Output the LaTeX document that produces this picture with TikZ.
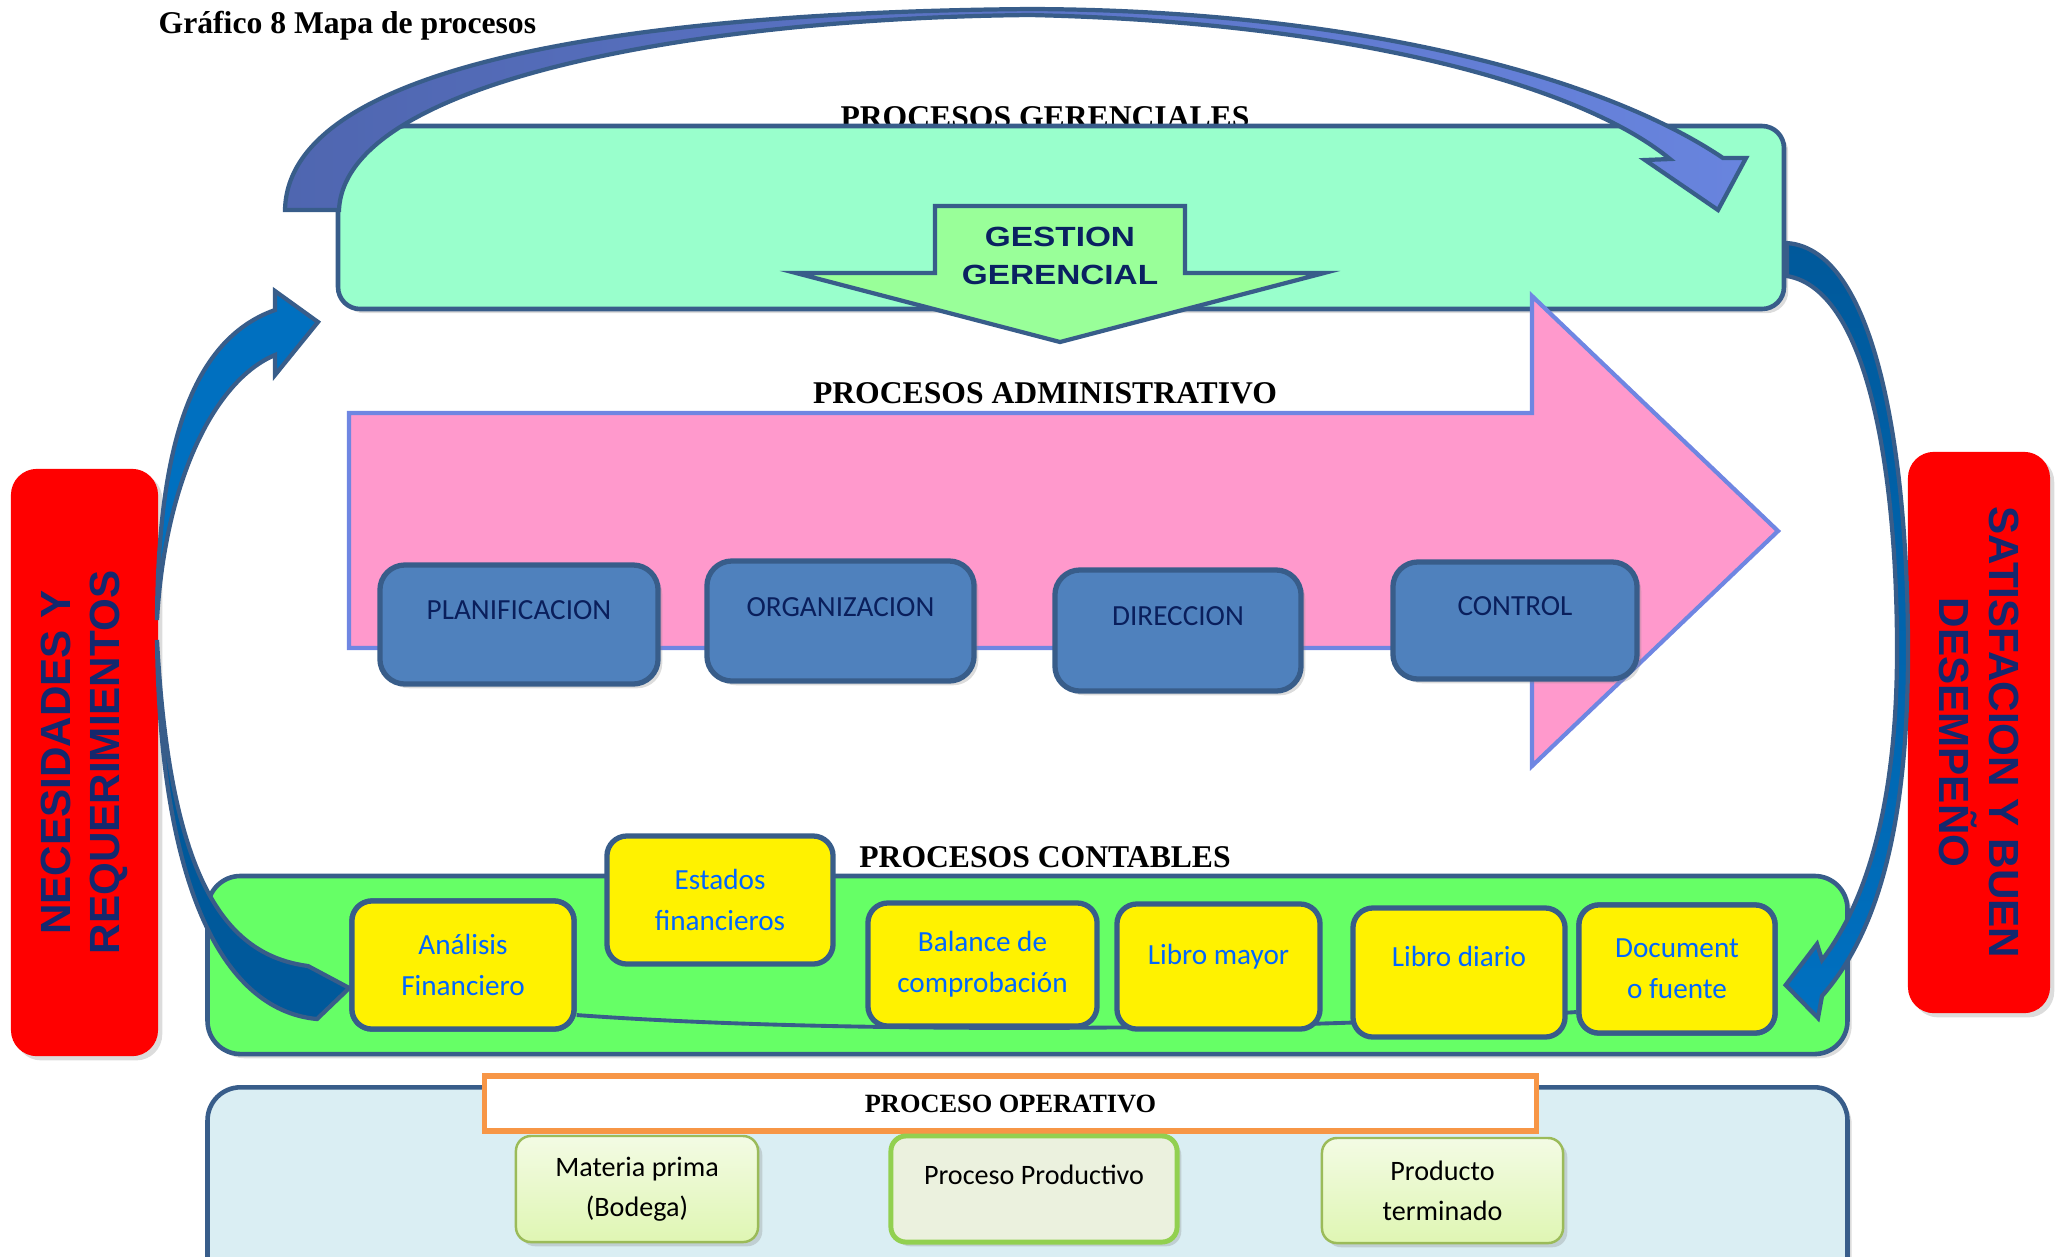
\documentclass[tikz,border=0pt]{standalone}
\usepackage{fontspec}
\setmainfont{Liberation Serif}
\newfontfamily\calib{Carlito}
\newfontfamily\arial{Liberation Sans}
\newfontfamily\arialw[FakeStretch=1.2]{Liberation Sans}
\usetikzlibrary{positioning,shapes,arrows,shadows}

\definecolor{frame}{HTML}{385D8A}
\definecolor{mint}{HTML}{99FFCC}
\definecolor{lgreen}{HTML}{99FF99}
\definecolor{gesttxt}{HTML}{0A2161}
\definecolor{pinkfill}{HTML}{FF99CC}
\definecolor{pinkline}{HTML}{6F86E2}
\definecolor{boxblue}{HTML}{4F81BD}
\definecolor{navy}{HTML}{0A1F5C}
\definecolor{contfill}{HTML}{66FF66}
\definecolor{txtblue}{HTML}{0066FF}
\definecolor{opfill}{HTML}{DAEEF3}
\definecolor{orangeline}{HTML}{F79646}
\definecolor{olive}{HTML}{9BBB59}
\definecolor{lime}{HTML}{92D050}
\definecolor{palegreen}{HTML}{EBF1DE}
\definecolor{greentop}{HTML}{F3FBE4}
\definecolor{greenbot}{HTML}{DFF6B3}
\definecolor{arrowL}{HTML}{4F66B0}
\definecolor{arrowR}{HTML}{6884DE}
\definecolor{blueA}{HTML}{0070C0}
\definecolor{blueB}{HTML}{00599B}
\definecolor{redtxt}{HTML}{14286E}

\begin{document}
\begin{tikzpicture}[
	x=0.01cm,y=-0.01cm,
	softshadow/.style={drop shadow={opacity=.28,shadow xshift=1.2pt,shadow yshift=-1.2pt}},
	sect/.style={anchor=base,font=\bfseries\fontsize{9}{11}\selectfont},
	gerbox/.style={draw=frame,line width=1.3pt,fill=mint,softshadow},
	band/.style={draw=frame,line width=1.2pt},
	stage/.style={draw=frame,fill=boxblue,line width=1.5pt,rounded corners=0.25cm,inner sep=0pt,
		text=navy,font=\calib\fontsize{8.3}{10}\selectfont,text height=5.4pt,text depth=8.2pt,softshadow},
	need/.style={fill=red,rounded corners=0.26cm,inner sep=0pt,align=center,text=redtxt,
		font=\arial\bfseries\fontsize{12}{14}\selectfont,softshadow},
	bigbox/.style={draw=frame,line width=1.3pt,rounded corners=0.33cm,inner sep=0pt,softshadow},
	acct/.style={draw=frame,fill=yellow,line width=1.5pt,rounded corners=0.2cm,inner sep=0pt,
		align=center,text=txtblue,font=\calib\fontsize{8.3}{11.7}\selectfont},
	stock/.style={draw=olive,line width=0.7pt,top color=greentop,bottom color=greenbot,
		rounded corners=0.15cm,inner sep=0pt,align=center,font=\calib\fontsize{8}{11.4}\selectfont,softshadow},
	link/.style={draw=frame,line width=1.1pt}
	]
	\useasboundingbox (0,0) rectangle (2060,1256);
	\node[anchor=base west,inner sep=0pt,font=\bfseries\fontsize{9}{11}\selectfont] (title) at (158,33) {Gráfico 8 Mapa de procesos};
	
	% gerenciales
	\node[sect] (lger) at (1045,127) {PROCESOS GERENCIALES};
	\path[gerbox] (338,205) .. controls (338,150) and (365,126) .. (410,126) [rounded corners=0.22cm] -- (1784,126) -- (1784,309) -- (338,309) -- cycle;
	\path[band,left color=arrowL,right color=arrowR] (285,210) .. controls (288,60) and (650,12) .. (1030,9) .. controls (1350,10) and (1600,75) .. (1723,158) -- (1746,158) -- (1718,210) -- (1645,160) -- (1670,159) .. controls (1580,85) and (1350,22) .. (1030,15) .. controls (700,18) and (345,80) .. (339,210) -- cycle;
	\path[band,fill=lgreen] (935,206) -- (1185,206) -- (1185,273) -- (1324,273) -- (1060,342) -- (796,273) -- (935,273) -- cycle;
	\node[align=center,text=gesttxt,font=\arialw\bfseries\fontsize{7.9}{10.8}\selectfont] (gest) at (1060,256) {GESTION\\GERENCIAL};
	
	% administrativo
	\node[sect] (ladm) at (1045,403) {PROCESOS ADMINISTRATIVO};
	\path[draw=pinkline,line width=1.2pt,fill=pinkfill] (349,413) -- (1532,413) -- (1532,296) -- (1778,531) -- (1532,766) -- (1532,648) -- (349,648) -- cycle;
	\node[stage,minimum width=2.78cm,minimum height=1.19cm] (plan) at (519,624.5) {PLANIFICACION};
	\node[stage,minimum width=2.67cm,minimum height=1.20cm] (org) at (840.5,621) {ORGANIZACION};
	\node[stage,minimum width=2.46cm,minimum height=1.21cm] (dir) at (1178,630.5) {DIRECCION};
	\node[stage,minimum width=2.44cm,minimum height=1.17cm] (ctrl) at (1515,620.5) {CONTROL};
	
	% laterales
	\node[need,rotate=90,minimum width=5.87cm,minimum height=1.47cm] (nec) at (84.5,762.5) {NECESIDADES Y\\REQUERIMIENTOS};
	\node[need,rotate=-90,minimum width=5.61cm,minimum height=1.42cm] (sat) at (1979,732.5) {SATISFACION Y BUEN\\DESEMPEÑO};
	\path[band,fill=blueA] (275,310) -- (275,291) -- (318,322) -- (275,375) -- (275,355) .. controls (215,380) and (165,480) .. (157,620) .. controls (158,450) and (190,340) .. (275,310) -- cycle;
	
	% contables
	\node[sect] (lcont) at (1045,867) {PROCESOS CONTABLES};
	\node[bigbox,fill=contfill,minimum width=16.39cm,minimum height=1.78cm] (cont) at (1027.5,965) {};
	\node[acct,minimum width=2.22cm,minimum height=1.28cm] (ana) at (463,965) {};
	\node[acct,minimum width=1.96cm,minimum height=1.28cm] (doc) at (1677,969) {};
	\draw[link] ([yshift=-0.5cm]ana.east) .. controls (850,1035) and (1300,1030) .. ([yshift=-0.43cm]doc.west);
	\node[acct,minimum width=2.22cm,minimum height=1.28cm] at (ana) {Análisis\\Financiero};
	\node[acct,minimum width=2.26cm,minimum height=1.28cm] (est) at (720,900) {Estados\\financieros};
	\node[acct,minimum width=2.29cm,minimum height=1.23cm] (bal) at (982.5,964.5) {Balance de\\comprobación};
	\node[acct,minimum width=2.03cm,minimum height=1.25cm,text height=5.6pt,text depth=6.8pt] (may) at (1218.5,966.5) {Libro mayor};
	\node[acct,minimum width=2.12cm,minimum height=1.29cm,text height=5.6pt,text depth=9pt] (dia) at (1459,972.5) {Libro diario};
	\node[acct,minimum width=1.96cm,minimum height=1.28cm] at (doc) {Document\\o fuente};
	\path[band,fill=blueB] (157,640) .. controls (160,880) and (220,1010) .. (317,1019) -- ([yshift=-0.23cm]ana.west) -- (308,966) .. controls (225,955) and (170,880) .. (157,640) -- cycle;
	\path[band,top color=blueB,bottom color=blueA] (1787,243) .. controls (1880,250) and (1908,470) .. (1908,650) .. controls (1908,820) and (1880,930) .. (1822,996) -- (1818,1018) -- ([xshift=0.08cm,yshift=-0.16cm]doc.east) -- (1817,944) -- (1822,960) .. controls (1868,900) and (1897,800) .. (1897,650) .. controls (1897,480) and (1870,290) .. (1787,276) -- cycle;
	
	% operativo
	\node[bigbox,fill=opfill,anchor=north,minimum width=16.39cm,minimum height=2.1cm] (op) at (1027.5,1085) {};
	\node[draw=orangeline,line width=1.5pt,fill=white,minimum width=10.51cm,minimum height=0.55cm,inner sep=0pt,
		font=\bfseries\fontsize{7.5}{9}\selectfont] (lop) at (1010.5,1103.5) {PROCESO OPERATIVO};
	\node[stock,minimum width=2.42cm,minimum height=1.06cm] (mat) at (637,1189) {Materia prima\\(Bodega)};
	\node[stock,draw=lime,line width=1.4pt,fill=palegreen,top color=palegreen,bottom color=palegreen,
		minimum width=2.86cm,minimum height=1.06cm,text height=5.4pt,text depth=8pt] (pro) at (1034,1189) {Proceso Productivo};
	\node[stock,minimum width=2.41cm,minimum height=1.05cm] (term) at (1442.5,1190.5) {Producto\\terminado};
\end{tikzpicture}
\end{document}
